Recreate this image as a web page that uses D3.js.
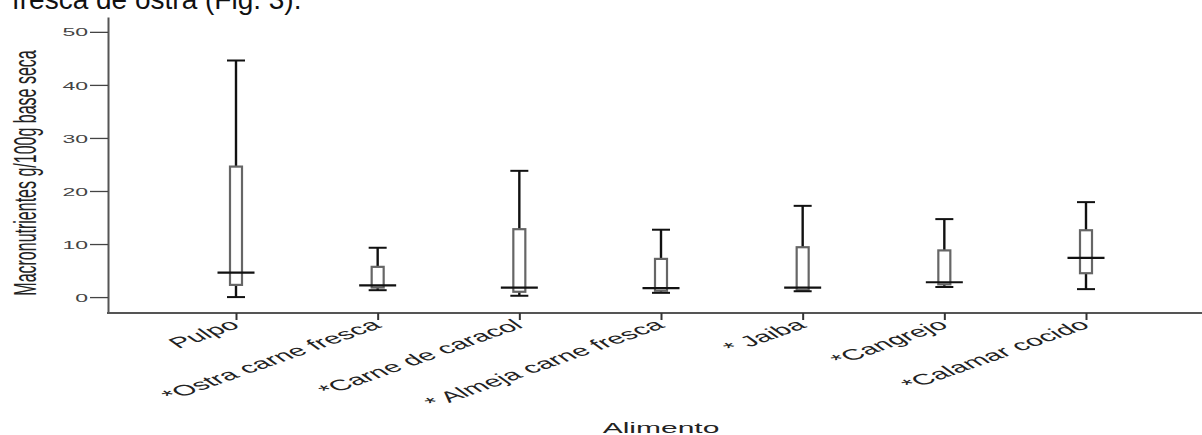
<!DOCTYPE html>
<html>
<head>
<meta charset="utf-8">
<script src="https://cdn.jsdelivr.net/npm/d3@7"></script>
<style>
html,body{margin:0;padding:0;background:#fff}
svg{display:block;font-family:"Liberation Sans",Arial,sans-serif}
</style>
</head>
<body>
<svg id="chart" width="1202" height="435"></svg>
<script>
const categories=['Pulpo','*Ostra carne fresca','*Carne de caracol','* Almeja carne fresca','* Jaiba','*Cangrejo','*Calamar cocido'];
const mins=[0,1.3,0.25,0.8,1.1,1.9,1.5];
const q1s=[2.3,1.8,1.0,1.2,1.3,2.4,4.5];
const medians=[4.6,2.2,1.8,1.7,1.8,2.8,7.4];
const q3s=[24.6,5.7,12.8,7.2,9.4,8.8,12.6];
const maxs=[44.6,9.3,23.8,12.7,17.2,14.7,17.9];
const yTicks=[0,10,20,30,40,50];
const SX=2; // picture is stretched horizontally

const W=1202,H=435,axisX=108,axisY=313,topY=17;
const svg=d3.select('#chart');
const y=d3.scaleLinear().domain([-3,52.8]).range([axisY,topY]);
const x=d3.scalePoint().domain(categories).range([236,1086]);

// cut-off body text above the figure
svg.append('text').attr('x',12).attr('y',9).attr('font-size',28).attr('fill','#111').text('fresca de ostra (Fig. 3).');

// y axis
const ya=svg.append('g').attr('transform',`translate(${axisX},0)`)
  .call(d3.axisLeft(y).tickValues(yTicks).tickSize(18).tickSizeOuter(0).tickPadding(2));
ya.select('.domain').attr('stroke','#555').attr('stroke-width',2);
ya.selectAll('.tick line').attr('stroke','#444').attr('stroke-width',1.3);
ya.selectAll('.tick text').attr('x',0).attr('dy','0.36em').attr('font-size',11.5).attr('fill','#444')
  .attr('font-family','"Liberation Sans",Arial,sans-serif')
  .attr('transform',`translate(-20,0) scale(${SX},1)`);

// x axis
svg.append('line').attr('x1',axisX-1).attr('x2',W).attr('y1',axisY).attr('y2',axisY).attr('stroke','#555').attr('stroke-width',2);
const xa=svg.append('g').attr('transform',`translate(0,${axisY})`).call(d3.axisBottom(x).tickSize(7).tickSizeOuter(0));
xa.select('.domain').remove();
xa.selectAll('.tick line').attr('stroke','#333').attr('stroke-width',2);
xa.selectAll('.tick text').remove();
svg.append('g').selectAll('text').data(categories).join('text')
  .attr('transform',d=>`translate(${x(d)+5},${axisY+14}) scale(${SX},1) rotate(-35)`)
  .attr('text-anchor','end').attr('font-size',15).attr('fill','#222').text(d=>d);

// axis titles
svg.append('text').attr('transform',`translate(36,173) scale(${SX},1) rotate(-90)`)
  .attr('text-anchor','middle').attr('font-size',16).attr('fill','#222').text('Macronutrientes g/100g base seca');
svg.append('text').attr('transform',`translate(661,433) scale(${SX},1)`)
  .attr('text-anchor','middle').attr('font-size',15).attr('fill','#222').text('Alimento');

// boxes
const rows=categories.map((c,i)=>({c,min:mins[i],q1:q1s[i],med:medians[i],q3:q3s[i],max:maxs[i]}));
const g=svg.append('g').selectAll('g').data(rows).join('g').attr('transform',d=>`translate(${x(d.c)},0)`);
g.append('line').attr('y1',d=>y(d.max)).attr('y2',d=>y(d.q3)).attr('stroke','#111').attr('stroke-width',2.4);
g.append('line').attr('y1',d=>y(d.q1)).attr('y2',d=>y(d.min)).attr('stroke','#111').attr('stroke-width',2.4);
g.append('rect').attr('x',-6).attr('width',12).attr('y',d=>y(d.q3)).attr('height',d=>Math.max(1,y(d.q1)-y(d.q3)))
  .attr('fill','#fff').attr('stroke','#666').attr('stroke-width',2.2);
g.append('line').attr('x1',-9).attr('x2',9).attr('y1',d=>y(d.max)).attr('y2',d=>y(d.max)).attr('stroke','#111').attr('stroke-width',2);
g.append('line').attr('x1',-9).attr('x2',9).attr('y1',d=>y(d.min)).attr('y2',d=>y(d.min)).attr('stroke','#111').attr('stroke-width',2);
g.append('line').attr('x1',-18.5).attr('x2',18.5).attr('y1',d=>y(d.med)).attr('y2',d=>y(d.med)).attr('stroke','#111').attr('stroke-width',2.2);
</script>
</body>
</html>
